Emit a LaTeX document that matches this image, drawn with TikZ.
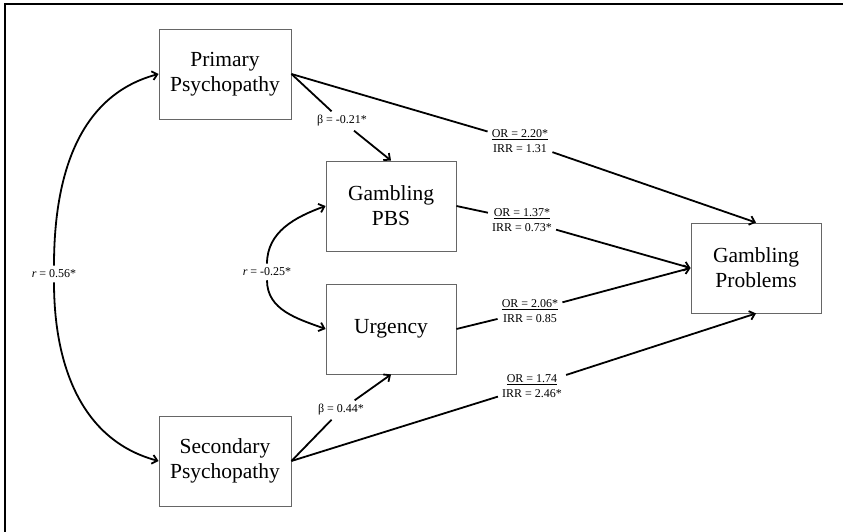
\documentclass[tikz,border=0pt]{standalone}
\usepackage{fontspec}
\setmainfont{Liberation Serif}
\usetikzlibrary{arrows.meta}
\begin{document}
\begin{tikzpicture}[x=1pt,y=1pt,>={Straight Barb[length=5pt,width=9pt]},
  box/.style={draw=black!60,line width=0.9pt,minimum width=132pt,minimum height=90pt,align=center,font=\fontsize{21.5}{25}\selectfont},
  lab/.style={inner sep=4pt,align=center,font=\fontsize{12}{14.5}\selectfont},
  link/.style={line width=1.8pt}]
\useasboundingbox (0,0) rectangle (843,532);
\draw[line width=2pt] (5,0)--(5,528)--(843,528);

\node[box] (ppsy) at (225,458) {Primary\\Psychopathy};
\node[box] (spsy) at (225,71) {Secondary\\Psychopathy};
\node[box,minimum width=130pt] (pbs) at (391,326) {Gambling\\PBS};
\node[box,minimum width=130pt] (urg) at (391,203) {Urgency};
\node[box,minimum width=130pt] (gp) at (756,264) {Gambling\\Problems};

\node[lab] (b1) at (342,411) {β = -0.21*};
\node[lab] (b2) at (341,122) {β = 0.44*};
\node[lab] (or1) at (520,391) {\underline{OR = 2.20*}\\IRR = 1.31};
\node[lab] (or2) at (522,312) {\underline{OR = 1.37*}\\IRR = 0.73*};
\node[lab] (or3) at (530,221) {\underline{OR = 2.06*}\\IRR = 0.85};
\node[lab] (or4) at (532,146) {\underline{OR = 1.74}\\IRR = 2.46*};
\node[lab] (r1) at (54,258) {\textit{r} = 0.56*};
\node[lab] (r2) at (267,260) {\textit{r} = -0.25*};

\draw[link] (ppsy.east)--(b1);
\draw[link,->] (b1)--(pbs.north);
\draw[link] (ppsy.east)--(or1);
\draw[link,->] (or1)--(gp.north);
\draw[link] (pbs.east)--(or2);
\draw[link,->] (or2)--(gp.west);
\draw[link] (urg.east)--(or3);
\draw[link,->] (or3)--(gp.west);
\draw[link] (spsy.east)--(or4);
\draw[link,->] (or4)--(gp.south);
\draw[link] (spsy.east)--(b2);
\draw[link,->] (b2)--(urg.south);

\draw[link,->] (r1) to[out=90,in=195] (ppsy.west);
\draw[link,->] (r1) to[out=270,in=165] (spsy.west);
\draw[link,->] (r2) to[out=90,in=200] (pbs.west);
\draw[link,->] (r2) to[out=270,in=160] (urg.west);
\end{tikzpicture}
\end{document}
